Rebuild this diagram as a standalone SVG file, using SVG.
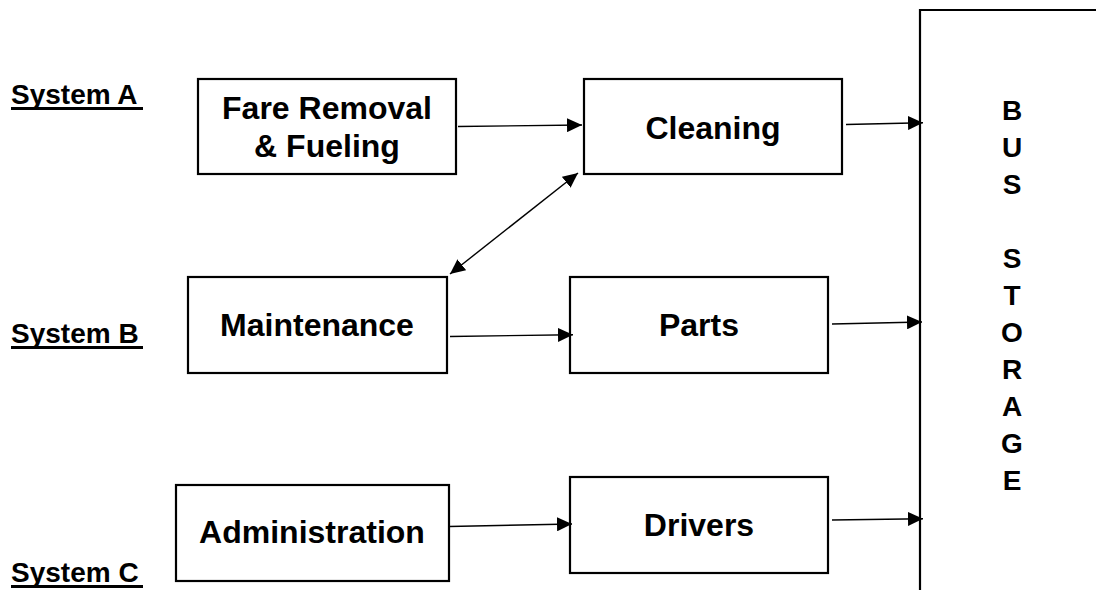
<svg xmlns="http://www.w3.org/2000/svg" width="1096" height="590" viewBox="0 0 1096 590">
<defs>
<marker id="ah" markerUnits="userSpaceOnUse" markerWidth="15" markerHeight="14" refX="15" refY="7" orient="auto-start-reverse" viewBox="0 0 15 14">
<path d="M0,0 L15,7 L0,14 z" fill="#000"/>
</marker>
<style>
.box{fill:#fff;stroke:#000;stroke-width:2.2}
.t{font-family:"Liberation Sans",Arial,sans-serif;font-weight:bold;font-size:32px;fill:#000;text-anchor:middle}
.sys{font-family:"Liberation Sans",Arial,sans-serif;font-weight:bold;font-size:28px;fill:#000}
.ul{fill:#000}
.v{font-family:"Liberation Sans",Arial,sans-serif;font-weight:bold;font-size:28px;fill:#000;text-anchor:middle}
.c{stroke:#000;stroke-width:1.4;fill:none;marker-end:url(#ah)}
</style>
</defs>
<rect width="1096" height="590" fill="#fff"/>
<g id="labels">
<text class="sys" x="11" y="104">System A</text>
<rect class="ul" x="11" y="107" width="132" height="3"/>
<text class="sys" x="11" y="343">System B</text>
<rect class="ul" x="11" y="346" width="132" height="3"/>
<text class="sys" x="11" y="582">System C</text>
<rect class="ul" x="11" y="585" width="132" height="3"/>
</g>
<g id="fare">
<rect class="box" x="198" y="79" width="258" height="95"/>
<text class="t" x="327" y="119">Fare Removal</text>
<text class="t" x="327" y="157">&amp; Fueling</text>
</g>
<g id="cleaning">
<rect class="box" x="584" y="79" width="258" height="95"/>
<text class="t" x="713" y="139">Cleaning</text>
</g>
<g id="maintenance">
<rect class="box" x="188" y="277" width="259" height="96"/>
<text class="t" x="317" y="336">Maintenance</text>
</g>
<g id="parts">
<rect class="box" x="570" y="277" width="258" height="96"/>
<text class="t" x="699" y="336">Parts</text>
</g>
<g id="administration">
<rect class="box" x="176" y="485" width="273" height="96"/>
<text class="t" x="312" y="543">Administration</text>
</g>
<g id="drivers">
<rect class="box" x="570" y="477" width="258" height="96"/>
<text class="t" x="699" y="536">Drivers</text>
</g>
<g id="bus-storage">
<path d="M920,600 V10 H1100" fill="none" stroke="#000" stroke-width="2.2"/>
<text class="v" x="1012" y="120">B</text>
<text class="v" x="1012" y="157">U</text>
<text class="v" x="1012" y="194">S</text>
<text class="v" x="1012" y="268">S</text>
<text class="v" x="1012" y="305">T</text>
<text class="v" x="1012" y="342">O</text>
<text class="v" x="1012" y="379">R</text>
<text class="v" x="1012" y="416">A</text>
<text class="v" x="1012" y="453">G</text>
<text class="v" x="1012" y="490">E</text>
</g>
<g id="connectors">
<line class="c" x1="458" y1="126.5" x2="582" y2="125"/>
<line class="c" x1="846" y1="124.5" x2="923" y2="122.7"/>
<line class="c" x1="450" y1="336.5" x2="573" y2="334.7"/>
<line class="c" x1="832" y1="324" x2="922" y2="322"/>
<line class="c" x1="449" y1="526.5" x2="572" y2="524"/>
<line class="c" x1="832" y1="520" x2="923" y2="518.7"/>
<line class="c" x1="450" y1="274" x2="578" y2="173" style="marker-start:url(#ah)"/>
</g>
</svg>
